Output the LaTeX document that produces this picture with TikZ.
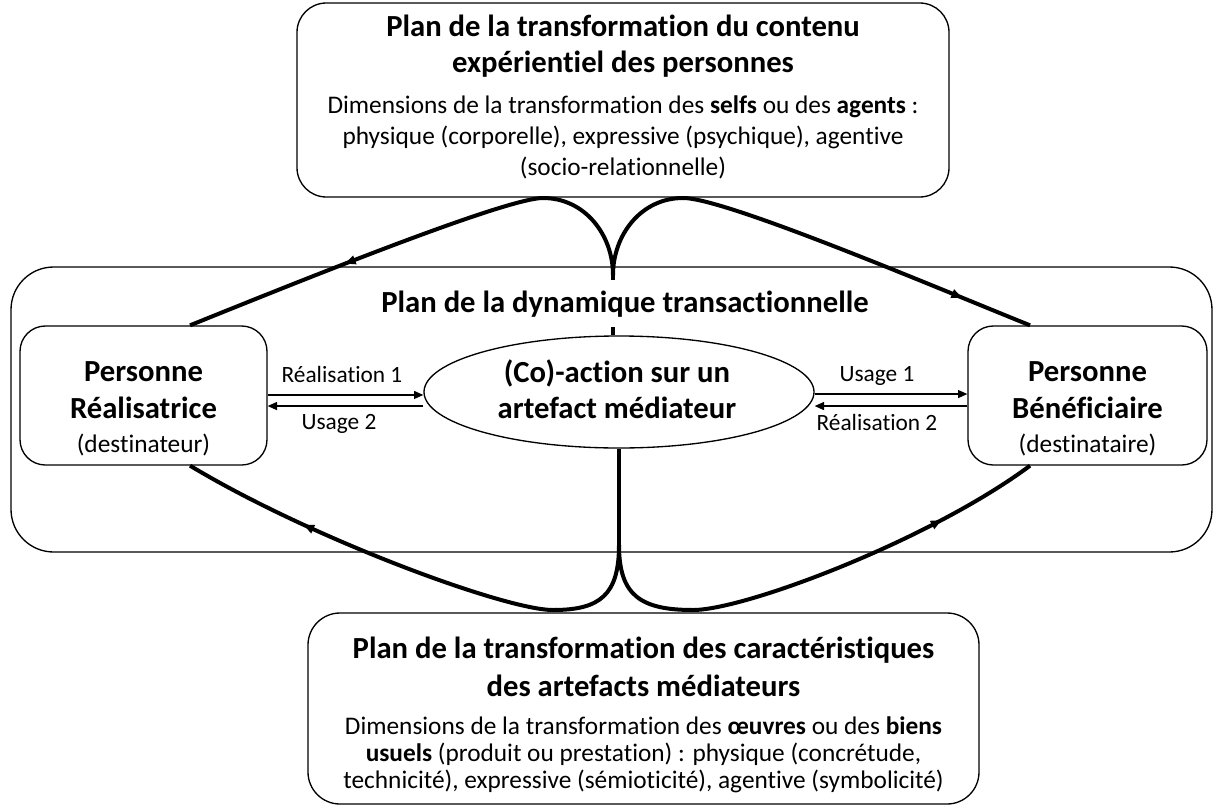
\documentclass[tikz,border=0pt]{standalone}
\usepackage{fontspec}
\setmainfont{Carlito}[Ligatures=NoCommon]
\usetikzlibrary{arrows.meta,shapes.geometric,decorations.markings}
\begin{document}
\begin{tikzpicture}[x=0.75pt,y=-0.75pt,
  box/.style={draw,line width=1pt,rounded corners=#1,inner sep=0pt},
  ell/.style={draw,line width=1pt,ellipse,inner sep=0pt},
  ttl/.style={font=\fontsize{23}{28}\selectfont\bfseries,anchor=base,inner sep=0pt},
  bod/.style={font=\fontsize{19}{23}\selectfont,anchor=base,inner sep=0pt},
  lbl/.style={font=\fontsize{17.5}{21}\selectfont,anchor=base,inner sep=0pt},
  thinarrow/.style={line width=1pt,-{Triangle[length=7pt,width=6pt]}},
  curve/.style={line width=3pt},
  markat/.style={postaction={decorate},decoration={markings,
     mark=at position #1 with {\arrow{Triangle[length=8pt,width=6.5pt]}}}}
]
\useasboundingbox (0,0) rectangle (1214,807);
% boxes
\node[box=32pt, minimum width=900.75pt, minimum height=213.75pt] (mid) at (611.5,409.5) {};
\node[box=22pt, minimum width=489pt, minimum height=145.5pt] (top) at (623,100) {};
\node[box=24pt, minimum width=503.25pt, minimum height=143.25pt] (bot) at (643.5,708.5) {};
\node[box=19pt, minimum width=185.25pt, minimum height=104.25pt] (L) at (143.5,395.5) {};
\node[box=19pt, minimum width=179.25pt, minimum height=104.25pt] (R) at (1087.5,395.5) {};
\node[ell, minimum width=292.5pt, minimum height=84pt] (E) at (619,392) {};
% cusps
\coordinate (ct) at (613,275);
\coordinate (cb) at (619,545);
\draw[curve] (E.north -| ct) -- (ct);
\draw[curve] (E.south -| cb) -- (cb);
% top curves
\draw[curve, markat=-125pt] (ct) .. controls (613,235) and (585,198) .. (543,198)
   .. controls (505,198) and (290,285) .. ([xshift=34.9pt]L.north);
\draw[curve, markat=-55pt] (ct) .. controls (613,235) and (641,198) .. (683,198)
   .. controls (725,198) and (930,285) .. ([xshift=-43.1pt]R.north);
% bottom curves
\draw[curve, markat=-96pt] (cb) .. controls (619,595) and (600,610) .. (553,610)
   .. controls (505,610) and (310,538) .. ([xshift=34.9pt]L.south);
\draw[curve, markat=-78pt] (cb) .. controls (619,595) and (640,610) .. (693,610)
   .. controls (745,610) and (930,540) .. ([xshift=-43.1pt]R.south);
% thin arrows
\draw[thinarrow] ([yshift=0.4pt]L.east) -- ([yshift=0.4pt]L.east -| E.west);
\draw[thinarrow] ([yshift=-7.9pt]L.east -| E.west) -- ([yshift=-7.9pt]L.east);
\draw[thinarrow] ([yshift=1.1pt]R.west -| E.east) -- ([yshift=1.1pt]R.west);
\draw[thinarrow] ([yshift=-7.9pt]R.west) -- ([yshift=-7.9pt]R.west -| E.east);
\node[lbl] (l1) at (342,382) {Réalisation 1};
\node[lbl] (l2) at (339,429) {Usage 2};
\node[lbl] (l3) at (877,381) {Usage 1};
\node[lbl] (l4) at (877,430) {Réalisation 2};
% middle title
\node[ttl, fill=white, inner xsep=3pt, inner ysep=7.5pt] (mt) at (625,312) {Plan de la dynamique transactionnelle};
% top text
\node[ttl] (t1) at (623,36) {Plan de la transformation du contenu};
\node[ttl] (t2) at (623,72) {expérientiel des personnes};
\node[bod] (t3) at (623,113) {Dimensions de la transformation des \textbf{selfs} ou des \textbf{agents} :};
\node[bod] (t4) at (623,144) {physique (corporelle), expressive (psychique), agentive};
\node[bod] (t5) at (623,175) {(socio-relationnelle)};
% left / right / ellipse text
\node[ttl] (p1) at (143.5,381) {Personne};
\node[ttl] (p2) at (143.5,418) {Réalisatrice};
\node[bod] (p3) at (143.5,452) {(destinateur)};
\node[ttl] (q1) at (1087.5,381) {Personne};
\node[ttl] (q2) at (1087.5,418) {Bénéficiaire};
\node[bod] (q3) at (1087.5,452) {(destinataire)};
\node[ttl] (e1) at (617,382) {(Co)-action sur un};
\node[ttl] (e2) at (617,418) {artefact médiateur};
% bottom text
\node[ttl] (b1) at (643.5,658) {Plan de la transformation des caractéristiques};
\node[ttl] (b2) at (643.5,696) {des artefacts médiateurs};
\node[bod] (b3) at (643.5,734) {Dimensions de la transformation des \textbf{œuvres} ou des \textbf{biens}};
\node[bod] (b4) at (643.5,761) {\textbf{usuels} (produit ou prestation) : physique (concrétude,};
\node[bod] (b5) at (643.5,788) {technicité), expressive (sémioticité), agentive (symbolicité)};
\end{tikzpicture}
\end{document}
